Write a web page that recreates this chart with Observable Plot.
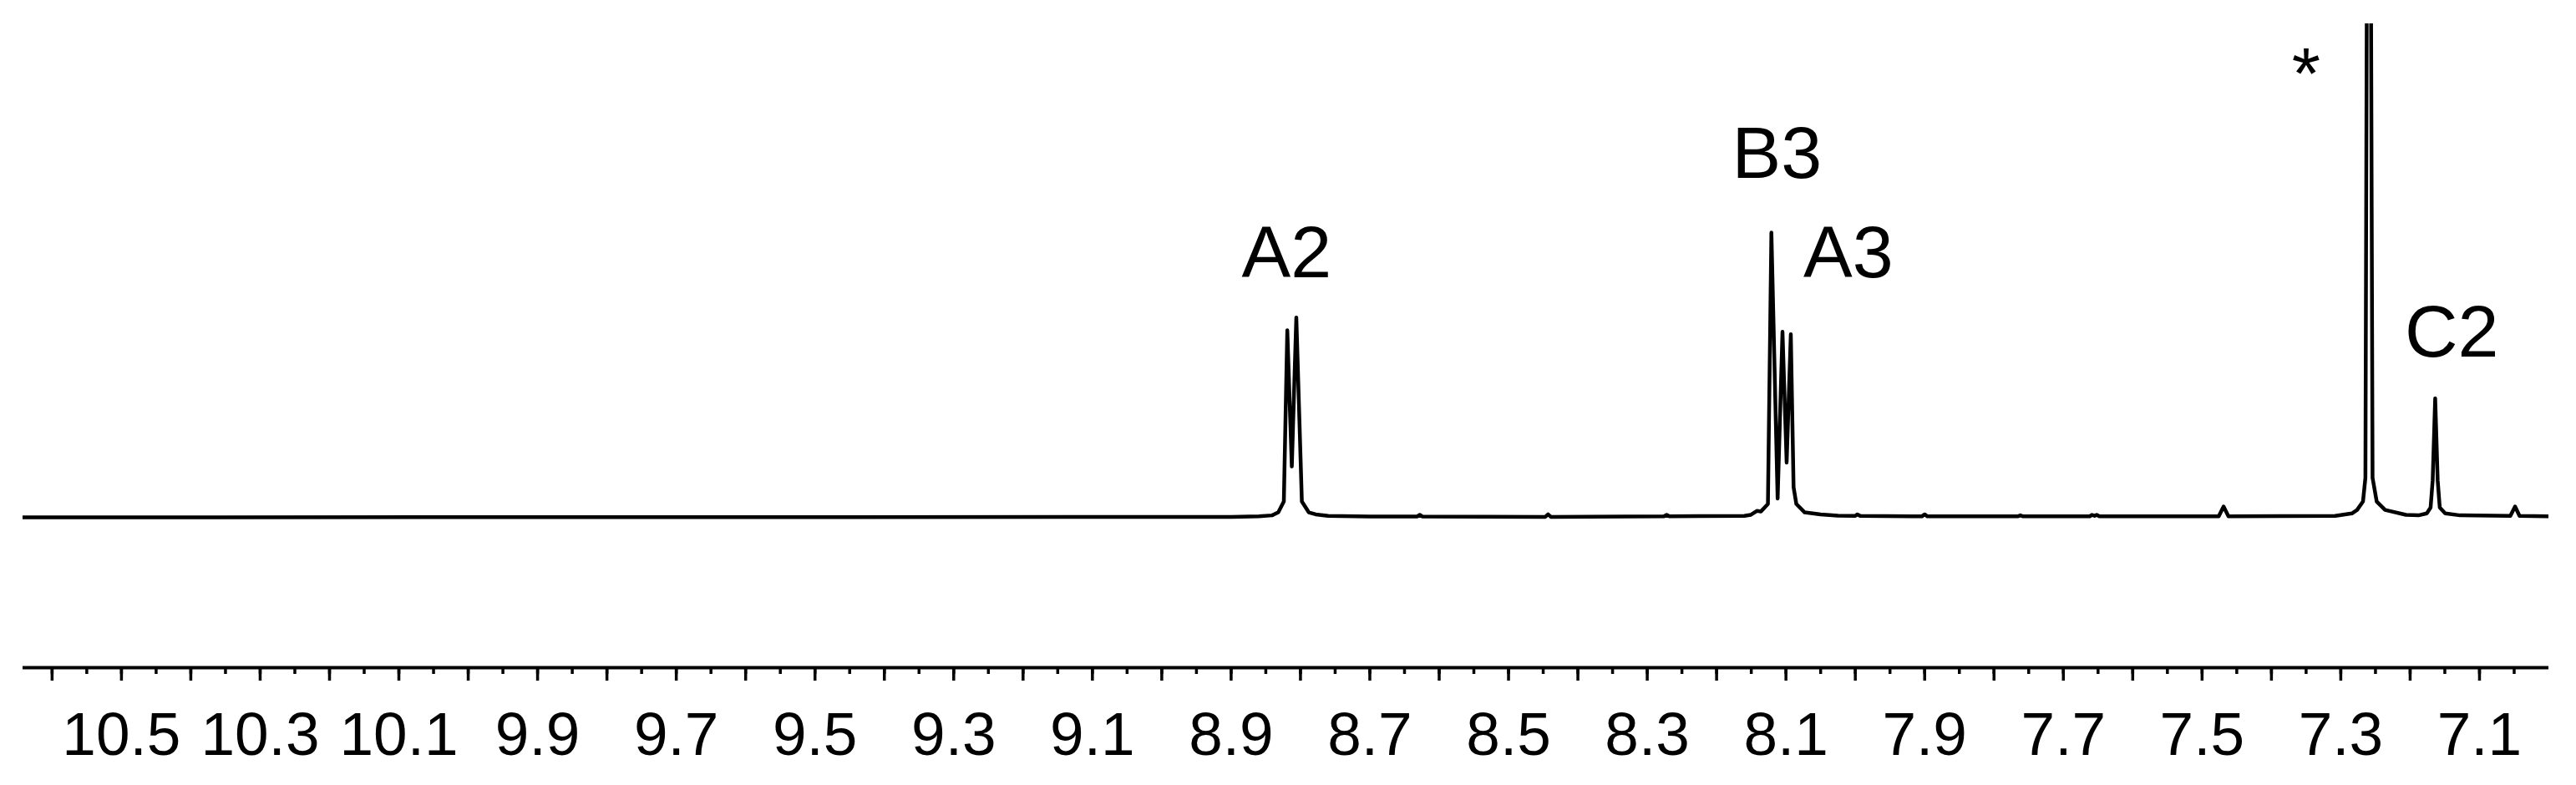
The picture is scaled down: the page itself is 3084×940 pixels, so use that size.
<!DOCTYPE html>
<html><head><meta charset="utf-8">
<script src="https://cdn.jsdelivr.net/npm/d3@7"></script>
<script src="https://cdn.jsdelivr.net/npm/@observablehq/plot@0.6"></script>
<style>html,body{margin:0;padding:0;background:#fff;}</style>
</head><body><div id="chart"></div>
<script>
// Chemical shift (ppm) of each vertex of the spectrum trace, left to right
const shift = [
  10.642, 9.60, 8.90, 8.86, 8.841, 8.832, 8.824, 8.819, 8.8125, 8.806, 8.798, 8.788, 8.778, 8.760,
  8.70, 8.632, 8.628, 8.624, 8.447, 8.443, 8.439, 8.276, 8.272, 8.268,
  8.16, 8.151, 8.142, 8.136, 8.126, 8.121, 8.112, 8.105, 8.099, 8.093, 8.089, 8.085, 8.073, 8.050, 8.025,
  8.000, 7.997, 7.993, 7.904, 7.900, 7.896, 7.766, 7.762, 7.758, 7.662, 7.659, 7.655, 7.652, 7.648,
  7.476, 7.469, 7.462,
  7.308, 7.284, 7.2765, 7.268, 7.2645, 7.2626, 7.2595, 7.2563, 7.2542, 7.2482, 7.2361, 7.206,
  7.188, 7.176, 7.1705, 7.1675, 7.1639, 7.1603, 7.1573, 7.1494, 7.128,
  7.0555, 7.0487, 7.0423, 7.0
];
// Intensity (arbitrary units) at each vertex
const intensity = [
  0.0, 0.05, 0.1, 0.2, 0.4, 1.0, 3.2, 37.9, 10.3, 40.5, 3.2, 1.0, 0.6, 0.3,
  0.15, 0.15, 0.5, 0.15, 0.1, 0.6, 0.1, 0.2, 0.5, 0.2,
  0.3, 0.5, 1.3, 1.2, 2.7, 57.7, 3.8, 37.6, 11.1, 37.1, 6.1, 2.7, 1.0, 0.6, 0.35,
  0.3, 0.6, 0.3, 0.2, 0.6, 0.2, 0.2, 0.4, 0.2, 0.2, 0.5, 0.3, 0.5, 0.2,
  0.2, 2.2, 0.2,
  0.3, 0.8, 1.5, 3.2, 8.0, 100, 150, 100, 8.0, 3.2, 1.5, 0.5,
  0.4, 0.8, 2.0, 7.5, 24.1, 7.5, 2.0, 0.8, 0.4,
  0.3, 2.2, 0.3, 0.2
];
// Peak annotations
const labelText = ["A2", "B3", "A3", "*", "C2"];
const labelShift = [8.820, 8.113, 8.010, 7.350, 7.140];
const labelHeight = [48.6, 68.8, 48.6, 84.8, 32.5];
// Axis ticks
const tickLabels = [10.5, 10.3, 10.1, 9.9, 9.7, 9.5, 9.3, 9.1, 8.9, 8.7, 8.5, 8.3, 8.1, 7.9, 7.7, 7.5, 7.3, 7.1];
const majorTicks = d3.range(71, 107).map(d => d / 10);
const minorTicks = d3.range(141, 213).map(d => d / 20);
const xDomain = [10.642, 7.0];
const yDomain = [-30.46, 100];

const spectrum = shift.map((x, i) => ({ppm: x, I: intensity[i]}));
const labels = labelText.map((t, i) => ({t, ppm: labelShift[i], h: labelHeight[i]}));

const chart = Plot.plot({
  width: 3084, height: 940,
  marginLeft: 27, marginRight: 33, marginTop: 28, marginBottom: 141,
  x: {domain: xDomain, axis: null, label: null},
  y: {domain: yDomain, axis: null, label: null},
  style: {fontFamily: "'Liberation Sans', Arial, sans-serif", background: "#fff", color: "#000"},
  marks: [
    Plot.line(spectrum, {x: "ppm", y: "I", stroke: "#000", strokeWidth: 4.5, clip: true}),
    Plot.text(labels, {x: "ppm", y: "h", text: "t", fontSize: 88, lineAnchor: "bottom", textAnchor: "middle", fill: "#000"}),
    Plot.ruleY([yDomain[0]], {stroke: "#000", strokeWidth: 4}),
    Plot.axisX(minorTicks, {anchor: "bottom", tickSize: 8, strokeWidth: 3.5, tickFormat: () => "", label: null}),
    Plot.axisX(majorTicks, {anchor: "bottom", tickSize: 16, strokeWidth: 3.5, tickFormat: () => "", label: null}),
    Plot.axisX(tickLabels, {anchor: "bottom", tickSize: 0, tickPadding: 53, fontSize: 73, tickFormat: d => d.toFixed(1), label: null, fill: "#000"})
  ]
});
document.getElementById("chart").appendChild(chart);
</script>
</body></html>
